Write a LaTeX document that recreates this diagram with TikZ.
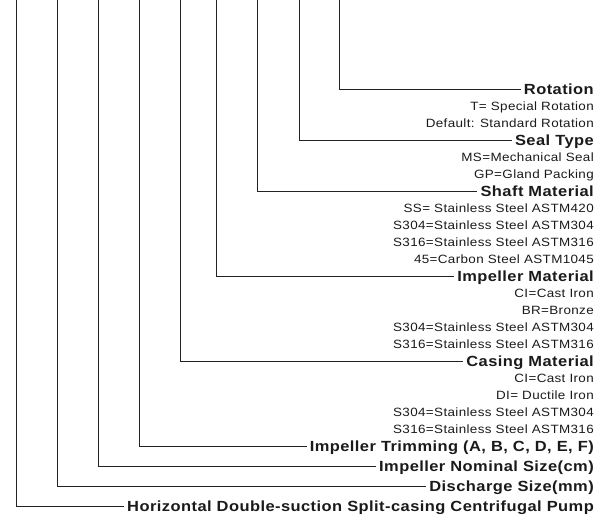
\documentclass[tikz,border=0pt]{standalone}
\usepackage{fontspec}
\setmainfont{Liberation Sans}
\newfontfamily\hdfont{Liberation Sans}[FakeStretch=1.12,LetterSpace=3]
\newfontfamily\sbfont{Liberation Sans}[FakeStretch=1.12,LetterSpace=3]
\definecolor{ink}{HTML}{1A1A1A}
\definecolor{wire}{HTML}{222222}
\tikzset{
  hdr/.style={anchor=east, inner xsep=0pt, inner ysep=0pt, text height=10.1pt, text depth=0pt,
    font=\hdfont\bfseries\fontsize{14.7}{16}\selectfont, text=ink},
  sub/.style={anchor=east, inner xsep=0pt, inner ysep=0pt, text height=8.3pt, text depth=0pt,
    font=\sbfont\fontsize{12}{14}\selectfont, text=ink},
  conn/.style={draw=wire, line width=0.95pt, shorten >=3pt},
}
\begin{document}
\begin{tikzpicture}[x=1pt,y=-1pt]
\useasboundingbox (0,0) rectangle (609,518);
% top ends of the vertical leaders
\coordinate (t1) at (339,0);
\coordinate (t2) at (299,0);
\coordinate (t3) at (257.5,0);
\coordinate (t4) at (216.5,0);
\coordinate (t5) at (180,0);
\coordinate (t6) at (139.5,0);
\coordinate (t7) at (98.5,0);
\coordinate (t8) at (57.5,0);
\coordinate (t9) at (16.5,0);
% headers and options
\node[hdr] (h1) at (594,89) {Rotation};
\node[sub] (r1) at (594,106) {T= Special Rotation};
\node[sub] (r2) at (594,123) {Default: Standard Rotation};
\node[hdr] (h2) at (594,140) {Seal Type};
\node[sub] (e1) at (594,157) {MS=Mechanical Seal};
\node[sub] (e2) at (594,174) {GP=Gland Packing};
\node[hdr] (h3) at (594,191) {Shaft Material};
\node[sub] (f1) at (594,208) {SS= Stainless Steel ASTM420};
\node[sub] (f2) at (594,225) {S304=Stainless Steel ASTM304};
\node[sub] (f3) at (594,242) {S316=Stainless Steel ASTM316};
\node[sub] (f4) at (594,259) {45=Carbon Steel ASTM1045};
\node[hdr] (h4) at (594,276) {Impeller Material};
\node[sub] (i1) at (594,293) {CI=Cast Iron};
\node[sub] (i2) at (594,310) {BR=Bronze};
\node[sub] (i3) at (594,327) {S304=Stainless Steel ASTM304};
\node[sub] (i4) at (594,344) {S316=Stainless Steel ASTM316};
\node[hdr] (h5) at (594,361) {Casing Material};
\node[sub] (c1) at (594,378) {CI=Cast Iron};
\node[sub] (c2) at (594,395) {DI= Ductile Iron};
\node[sub] (c3) at (594,412) {S304=Stainless Steel ASTM304};
\node[sub] (c4) at (594,429) {S316=Stainless Steel ASTM316};
\node[hdr] (h6) at (594,446) {Impeller Trimming (A, B, C, D, E, F)};
\node[hdr] (h7) at (594,466) {Impeller Nominal Size(cm)};
\node[hdr] (h8) at (594,486) {Discharge Size(mm)};
\node[hdr] (h9) at (594,506) {Horizontal Double-suction Split-casing Centrifugal Pump};
% leaders
\foreach \i in {1,...,9} {\draw[conn] (t\i) |- (h\i.west);}
\end{tikzpicture}
\end{document}
